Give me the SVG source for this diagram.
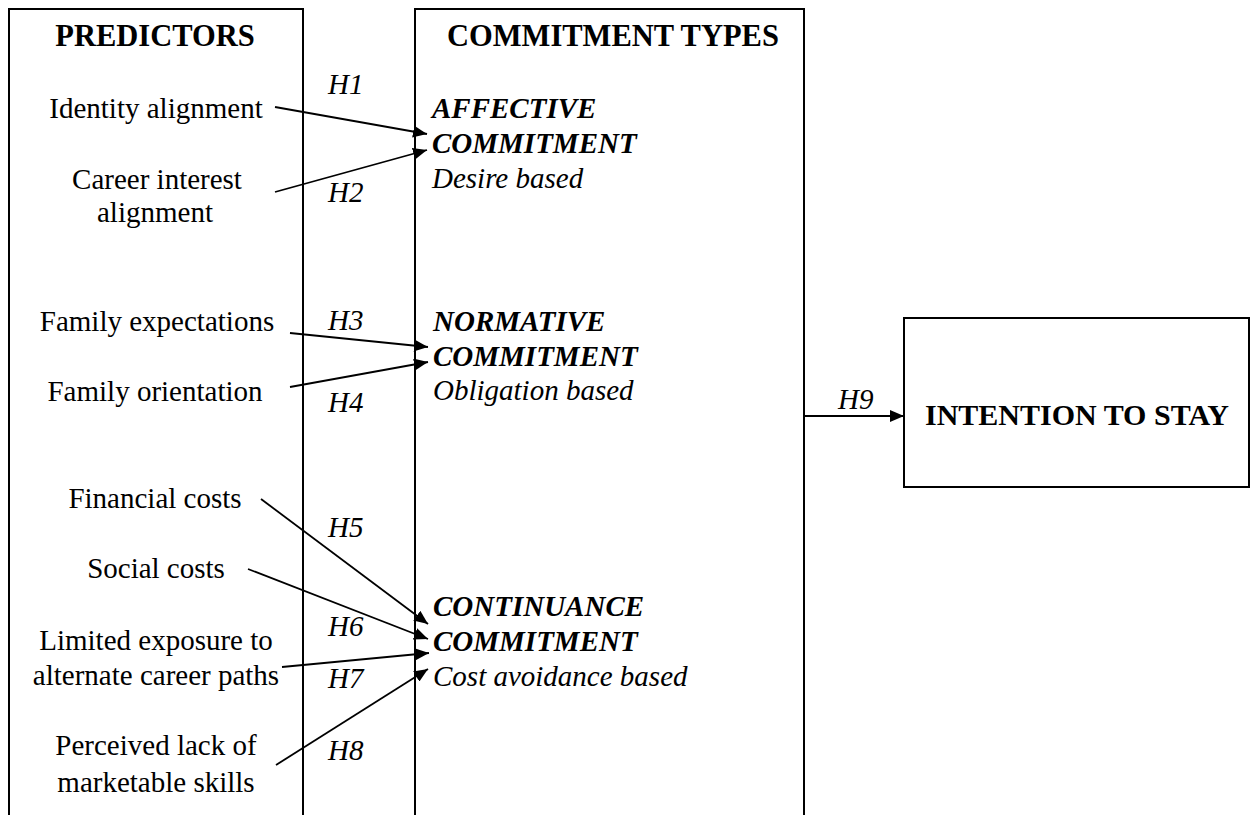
<svg xmlns="http://www.w3.org/2000/svg" width="1251" height="815" viewBox="0 0 1251 815">
<style>
.box{fill:none;stroke:#000;stroke-width:2}
.t{font-family:"Liberation Serif","Times New Roman",serif;font-size:29px;fill:#000}
.h{font-size:30.5px}
.c{text-anchor:middle}
.b{font-weight:bold}
.i{font-style:italic}
.bi{font-weight:bold;font-style:italic}
.ln{stroke:#000;stroke-width:1.8;fill:none;marker-end:url(#ah)}
</style>
<defs>
<marker id="ah" markerUnits="userSpaceOnUse" markerWidth="14" markerHeight="12" refX="14" refY="6" orient="auto">
<path d="M0,0 L14,6 L0,12 z" fill="#000"/>
</marker>
</defs>
<rect width="1251" height="815" fill="#fff"/>
<g id="predictors">
<path class="box" d="M9,815 V9 H303 V815"/>
<text class="t b c h" x="155" y="46">PREDICTORS</text>
<text class="t c" x="156" y="118">Identity alignment</text>
<text class="t c" x="157" y="189">Career interest</text>
<text class="t c" x="155" y="222">alignment</text>
<text class="t c" x="157" y="331">Family expectations</text>
<text class="t c" x="155" y="401">Family orientation</text>
<text class="t c" x="155" y="508">Financial costs</text>
<text class="t c" x="156" y="578">Social costs</text>
<text class="t c" x="156" y="650">Limited exposure to</text>
<text class="t c" x="156" y="685">alternate career paths</text>
<text class="t c" x="156" y="755">Perceived lack of</text>
<text class="t c" x="156" y="792">marketable skills</text>
</g>
<g id="commitment-types">
<path class="box" d="M415,815 V9 H804 V815"/>
<text class="t b c h" x="613" y="46">COMMITMENT TYPES</text>
<text class="t bi" x="432" y="118">AFFECTIVE</text>
<text class="t bi" x="432" y="153">COMMITMENT</text>
<text class="t i" x="432" y="188">Desire based</text>
<text class="t bi" x="433" y="331">NORMATIVE</text>
<text class="t bi" x="433" y="366">COMMITMENT</text>
<text class="t i" x="433" y="400">Obligation based</text>
<text class="t bi" x="433" y="616">CONTINUANCE</text>
<text class="t bi" x="433" y="651">COMMITMENT</text>
<text class="t i" x="433" y="686">Cost avoidance based</text>
</g>
<g id="intention">
<rect class="box" x="904" y="318" width="345" height="169"/>
<text class="t b c" style="font-size:30px" x="1077" y="425">INTENTION TO STAY</text>
</g>
<g id="connectors">
<line class="ln" x1="275" y1="107" x2="427" y2="134"/>
<line class="ln" x1="275" y1="192" x2="427" y2="150"/>
<line class="ln" x1="290" y1="333" x2="428" y2="347"/>
<line class="ln" x1="290" y1="387" x2="428" y2="362"/>
<line class="ln" x1="261" y1="499" x2="428" y2="624"/>
<line class="ln" x1="248" y1="569" x2="428" y2="639"/>
<line class="ln" x1="282" y1="667" x2="429" y2="653"/>
<line class="ln" x1="276" y1="765" x2="428" y2="669"/>
<line class="ln" x1="805" y1="416" x2="904" y2="416"/>
<text class="t i" x="328" y="94">H1</text>
<text class="t i" x="328" y="202">H2</text>
<text class="t i" x="328" y="330">H3</text>
<text class="t i" x="328" y="412">H4</text>
<text class="t i" x="328" y="537">H5</text>
<text class="t i" x="328" y="636">H6</text>
<text class="t i" x="328" y="688">H7</text>
<text class="t i" x="328" y="760">H8</text>
<text class="t i" x="838" y="409">H9</text>
</g>
</svg>
